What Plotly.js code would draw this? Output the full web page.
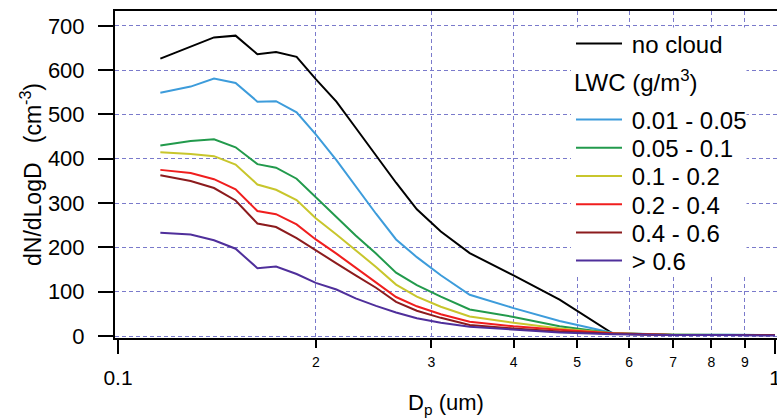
<!DOCTYPE html>
<html>
<head>
<meta charset="utf-8">
<script src="https://cdn.plot.ly/plotly-3.0.1.min.js"></script>
<style>
  html, body { margin: 0; padding: 0; background: #ffffff; }
  #chart { width: 777px; height: 418px; }
</style>
</head>
<body>
<div id="chart"></div>
<script>
// ---- data ----
var diameter = [0.116, 0.129, 0.14, 0.151, 0.163, 0.174, 0.187, 0.2, 0.215, 0.23, 0.247, 0.265, 0.285, 0.31, 0.343, 0.4, 0.47, 0.567, 0.7, 0.85, 1.0];
var noCloud  = [626, 653, 674, 678, 636, 641, 630, 580, 529, 470, 408, 346, 286, 236, 187, 137, 82, 5, 2, 2, 2];
var lwc001   = [549, 563, 581, 571, 529, 530, 505, 455, 397, 338, 276, 218, 178, 137, 93, 63, 34, 7, 3, 3, 2];
var lwc005   = [430, 440, 444, 426, 388, 380, 355, 313, 267, 227, 186, 143, 115, 89, 60, 43, 22, 6, 3, 3, 2];
var lwc01    = [415, 411, 406, 387, 342, 330, 307, 266, 229, 194, 156, 116, 89, 66, 44, 30, 17, 6, 3, 2, 2];
var lwc02    = [375, 368, 354, 331, 282, 275, 252, 218, 186, 155, 122, 88, 67, 49, 32, 22, 14, 6, 2, 2, 2];
var lwc04    = [363, 350, 334, 306, 254, 246, 221, 193, 164, 137, 109, 77, 57, 41, 25, 17, 10, 5, 2, 2, 2];
var lwc06    = [233, 229, 216, 197, 153, 157, 140, 120, 105, 85, 68, 53, 40, 30, 21, 14, 8, 4, 2, 2, 1];

var seriesNames = ["no cloud", "0.01 - 0.05", "0.05 - 0.1", "0.1 - 0.2", "0.2 - 0.4", "0.4 - 0.6", "> 0.6"];
var seriesData  = [noCloud, lwc001, lwc005, lwc01, lwc02, lwc04, lwc06];
var seriesColors = ["#000000", "#3d9cdb", "#229a4c", "#c8c62c", "#f01e1e", "#8c1b1d", "#4f2f9b"];

var minorTickVals = [0.2, 0.3, 0.4, 0.5, 0.6, 0.7, 0.8, 0.9];
var minorTickText = ["2", "3", "4", "5", "6", "7", "8", "9"];
var majorTickVals = [0.1, 1];
var majorTickText = ["0.1", "1"];
var yTickVals = [0, 100, 200, 300, 400, 500, 600, 700];

// ---- layout geometry (pixels) ----
var W = 777, H = 418;
var M = { l: 115, r: 0, t: 11, b: 80 };
var plotW = W - M.l - M.r, plotH = H - M.t - M.b;
function px2paperX(px) { return (px - M.l) / plotW; }
function py2paperY(py) { return (H - M.b - py) / plotH; }

var FONT = "Liberation Sans, Arial, Helvetica, sans-serif";
var gridColor = "#7a7acb";
var THIN = "\u2009";

var traces = [];
var legendY = [44, 120, 148.2, 176.4, 204.6, 232.8, 261];
for (var i = 0; i < seriesData.length; i++) {
  traces.push({
    type: "scatter",
    mode: "lines",
    x: diameter,
    y: seriesData[i],
    name: THIN + seriesNames[i],
    line: { color: seriesColors[i], width: 2 },
    legend: i === 0 ? "legend" : "legend" + (i + 1),
    hoverinfo: "x+y+name"
  });
}
// empty trace so the overlaid major-tick axis is drawn
traces.push({ type: "scatter", mode: "lines", x: [], y: [], xaxis: "x2", yaxis: "y", showlegend: false, hoverinfo: "skip" });

var xRange = [-1 - 3 / 657, 2 / 657];

var layout = {
  width: W, height: H,
  margin: M,
  paper_bgcolor: "#ffffff",
  plot_bgcolor: "#ffffff",
  font: { family: FONT, color: "#000000", size: 22 },
  showlegend: true,
  xaxis: {
    type: "log",
    range: xRange,
    tickmode: "array",
    tickvals: minorTickVals,
    ticktext: minorTickText,
    ticks: "outside",
    ticklen: 8,
    tickwidth: 2,
    tickcolor: "#000000",
    tickfont: { size: 14, family: FONT },
    ticklabelstandoff: 2,
    showline: true,
    linecolor: "#000000",
    linewidth: 2,
    mirror: true,
    showgrid: true,
    gridcolor: gridColor,
    gridwidth: 1,
    griddash: "4px,3px",
    zeroline: false,
    title: { text: "D<sub>p</sub> (um)", font: { size: 22, family: FONT }, standoff: 30 }
  },
  xaxis2: {
    type: "log",
    overlaying: "x",
    anchor: "y",
    side: "bottom",
    range: xRange,
    tickmode: "array",
    tickvals: majorTickVals,
    ticktext: majorTickText,
    ticks: "outside",
    ticklen: 15,
    tickwidth: 2,
    tickcolor: "#000000",
    tickfont: { size: 21, family: FONT },
    ticklabelstandoff: 6,
    ticklabeloverflow: "allow",
    showline: false,
    showgrid: false,
    zeroline: false
  },
  yaxis: {
    range: [-4.5, 733.6],
    tickmode: "array",
    tickvals: yTickVals,
    ticks: "outside",
    ticklen: 15,
    tickwidth: 2,
    tickcolor: "#000000",
    tickfont: { size: 22, family: FONT },
    ticklabelstandoff: 9,
    showline: true,
    linecolor: "#000000",
    linewidth: 2,
    showgrid: true,
    gridcolor: gridColor,
    gridwidth: 1,
    griddash: "4px,3px",
    zeroline: false,
    title: { text: "dN/dLogD\u00a0\u00a0\u00a0(cm<sup>-3</sup>)", font: { size: 23, family: FONT }, standoff: 0 }
  },
  shapes: [{
    type: "rect", xref: "paper", yref: "paper", layer: "above",
    x0: px2paperX(571), x1: px2paperX(746.5), y0: py2paperY(277), y1: py2paperY(27.5),
    fillcolor: "#ffffff", line: { width: 0 }
  }],
  annotations: [{
    text: "LWC (g/m<sup>3</sup>)",
    xref: "paper", yref: "paper",
    x: px2paperX(572), y: py2paperY(80.5),
    xanchor: "left", yanchor: "middle",
    showarrow: false,
    font: { size: 24, family: FONT, color: "#000000" }
  }]
};

for (var j = 0; j < seriesData.length; j++) {
  var key = j === 0 ? "legend" : "legend" + (j + 1);
  layout[key] = {
    x: px2paperX(571), xanchor: "left",
    y: py2paperY(legendY[j]), yanchor: "middle",
    bgcolor: "rgba(0,0,0,0)",
    borderwidth: 0,
    itemwidth: 46,
    font: { size: 24, family: FONT, color: "#000000" }
  };
}

Plotly.newPlot("chart", traces, layout, { displayModeBar: false, staticPlot: true });
</script>
</body>
</html>
